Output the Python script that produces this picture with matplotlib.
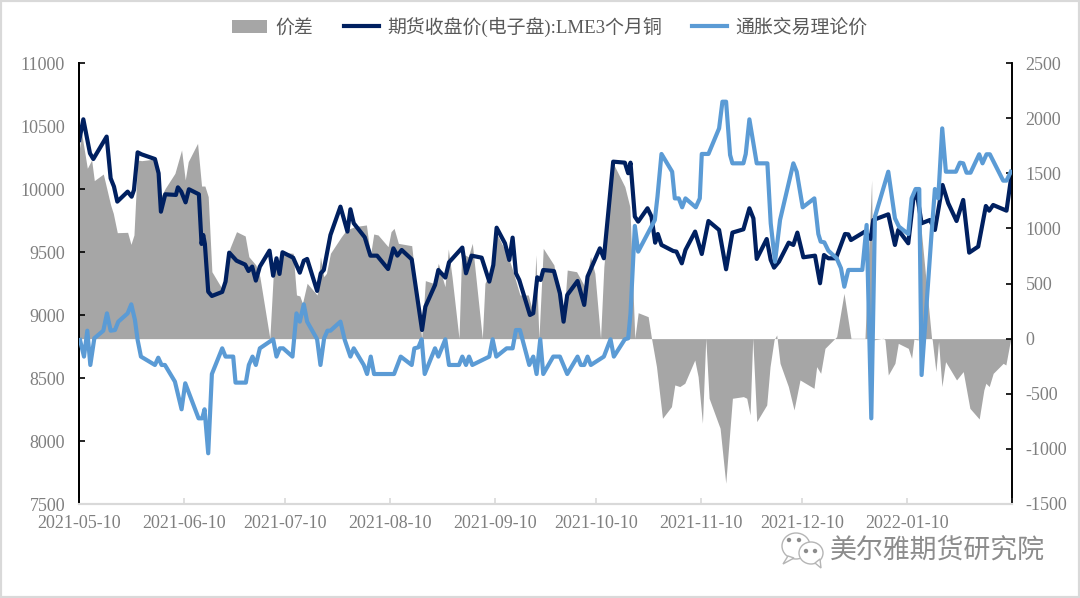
import matplotlib
matplotlib.use('Agg')
import matplotlib.pyplot as plt
from matplotlib.patches import Ellipse, Rectangle, Polygon
import numpy as np

# days since 2021-05-10, the time axis ends at about day 280 in these units
tick_labels = ['2021-05-10', '2021-06-10', '2021-07-10', '2021-08-10', '2021-09-10',
               '2021-10-10', '2021-11-10', '2021-12-10', '2022-01-10', '']
tick_days = [0, 31, 61, 92, 123, 153, 184, 214, 245, 276]

lme_days = [0.1, 1.3, 3.3, 4.3, 8.3, 9.5, 10.5, 11.5, 14.6, 15.8, 16.5, 17.6, 18.8, 22.8, 23.9, 24.6, 25.9,
            29.1, 29.7, 30.7, 32, 33, 36, 36.8, 37.3, 37.8, 38.8, 39.9, 43, 44, 45.1, 47.3, 49.9, 50.9, 52,
            53.1, 54.3, 57.2, 58.3, 59.3, 60.2, 61.1, 64.3, 66.3, 67.5, 68.5, 71.5, 72.6, 73.5, 75.5, 78.5,
            80.6, 81.5, 82.5, 85.8, 87.5, 89.5, 92.8, 94.4, 95.6, 96.9, 99.9, 103, 104, 106.9, 107.9, 110,
            111.1, 115.1, 116.2, 117.9, 120.9, 123.2, 124.4, 125.4, 127.9, 129.2, 130.2, 131.2, 132.2,
            135.4, 136.4, 137.6, 138.6, 139.4, 142.6, 144.4, 145.5, 146.6, 149.7, 151.7, 152.7, 156.4,
            157.6, 160.4, 163.9, 164.9, 165.6, 166.9, 167.9, 170.7, 171.9, 173, 173.8, 174.9, 178.4, 179.4,
            181, 182.1, 185, 187, 189, 192.2, 194.3, 196.2, 199.5, 201.3, 202.5, 203.5, 206.5, 207.7, 208.7,
            210.2, 213.1, 214.5, 215.7, 217.5, 221, 222.5, 223.7, 225, 227.3, 230, 231, 231.8, 236, 237.7,
            238.5, 243, 245, 246, 249, 250.5, 251.5, 253, 255.5, 257, 259.3, 261, 263.5, 265.5, 267.3, 270,
            272.3, 273.3, 274.5, 278.5, 280]
lme_price = [10389, 10553, 10283, 10238, 10416, 10085, 10019, 9900, 9979, 9939, 9992, 10291, 10275, 10238, 10125,
             9820, 9958, 9953, 10013, 9979, 9894, 9998, 9958, 9564, 9635, 9564, 9185, 9151, 9183, 9265, 9495,
             9431, 9400, 9349, 9384, 9273, 9384, 9511, 9312, 9450, 9326, 9498, 9455, 9336, 9431, 9445, 9191,
             9331, 9357, 9635, 9860, 9662, 9839, 9728, 9617, 9471, 9471, 9365, 9529, 9471, 9516, 9442, 8881,
             9066, 9238, 9357, 9297, 9418, 9535, 9331, 9471, 9455, 9265, 9397, 9693, 9569, 9437, 9614, 9331,
             9278, 9000, 9014, 9299, 9278, 9357, 9349, 9172, 8947, 9159, 9270, 9080, 9305, 9529, 9450, 10217,
             10209, 10125, 10209, 9781, 9741, 9847, 9781, 9574, 9643, 9556, 9508, 9503, 9410, 9516, 9662, 9484,
             9746, 9675, 9363, 9654, 9680, 9847, 9767, 9445, 9603, 9437, 9376, 9424, 9574, 9556, 9654, 9458,
             9471, 9252, 9476, 9450, 9450, 9643, 9640, 9595, 9662, 9603, 9754, 9799, 9556, 9675, 9569, 9913,
             9979, 9728, 9754, 9675, 10032, 9887, 9746, 9913, 9495, 9543, 9865, 9828, 9873, 9828, 10111]

theory_days = [0.3, 1.5, 2.5, 3.4, 4.6, 7.3, 8.4, 9.5, 10.8, 11.8, 14.6, 15.7, 16.8, 17.6, 18.6, 22.8, 23.8, 24.8,
               25.8, 28.8, 30.8, 31.9, 35.9, 37, 37.7, 38.8, 39.9, 43, 44, 46.3, 47, 50.1, 51, 52.1, 53.1, 54.3,
               58.3, 59.3, 60.3, 61.3, 64.1, 65.3, 66.3, 67.5, 68.5, 71.5, 72.5, 73.6, 74.6, 75.5, 78.5, 79.8,
               81.5, 82.5, 85.5, 86.5, 87.6, 88.6, 94.6, 96.6, 99.9, 100.7, 101.9, 102.9, 103.8, 106.9, 107.9,
               110, 111.1, 114.1, 115.1, 116.2, 117.1, 118.1, 123.2, 124.2, 125.3, 128.4, 130.2, 131.2, 132.4,
               135.2, 136.4, 137.4, 138.5, 139.4, 142.4, 144.4, 146.6, 149.7, 150.7, 151.7, 152.7, 153.7, 157.6,
               159.6, 160.6, 163.9, 164.9, 165.6, 166.9, 167.9, 172.9, 173.7, 174.9, 178.1, 178.9, 180.1, 181.1,
               182.1, 185.2, 186.4, 187, 189, 192.2, 193.2, 194.3, 195.5, 196.2, 199.5, 200.2, 201.3, 203.5,
               206.7, 207.7, 209, 210.5, 214.5, 215.5, 217.3, 220.8, 222, 222.7, 223.8, 225, 227.5, 228.8, 229.8,
               231, 235.2, 236.5, 237.9, 239, 243, 245, 246.2, 249, 250, 251.2, 252.3, 253, 256, 257, 258, 259.2,
               260.3, 263.3, 264.5, 265.5, 266.5, 267.7, 270.3, 271.3, 272.5, 273.5, 277.5, 278.5, 279.8]
theory_price = [-12, -163, 72, -239, 3, 72, 229, 72, 78, 154, 229, 311, 169, -12, -163, -239, -173, -239, -239, -390,
                -641, -405, -723, -723, -641, -1040, -321, -88, -163, -163, -399, -399, -239, -163, -239, -88, -6,
                -163, -88, -88, -163, 229, 154, 311, 154, -6, -239, 3, 72, 72, 154, -12, -163, -88, -239, -321,
                -163, -321, -321, -163, -239, -88, -79, -6, -321, -88, -163, -6, -239, -239, -163, -239, -163,
                -239, -163, -6, -163, -88, -88, 78, 78, -239, -163, -321, -6, -321, -163, -163, -321, -163, -239,
                -239, -163, -239, -163, -6, -163, -6, 3, 229, 1022, 789, 1076, 1288, 1675, 1514, 1272, 1272, 1191,
                1272, 1191, 1272, 1675, 1675, 1907, 2149, 2149, 1666, 1590, 1590, 1675, 1989, 1590, 1590, 1046, 698,
                1076, 1590, 1514, 1191, 1272, 949, 880, 873, 798, 728, 638, 471, 623, 623, 1031, -723, 1106, 1514,
                1091, 1016, 949, 1272, 1357, 1357, -330, 955, 1357, 1272, 1907, 1514, 1514, 1596, 1590, 1505, 1505,
                1672, 1590, 1672, 1672, 1433, 1433, 1514]

spread_days = [0, 0.8, 2.5, 3.8, 4.6, 7.3, 9.5, 10.3, 11.5, 14.6, 15.6, 16.5, 17.6, 18.8, 22.8, 23.9, 24.6, 25.9, 28.8,
               30.8, 31.9, 32.8, 35.6, 36.8, 37.8, 38.8, 39.9, 43, 45.3, 47.3, 49.9, 51, 53.1, 54.3, 57.3, 58.3,
               59.3, 60.3, 61.1, 64.3, 65.3, 66.3, 67.1, 68.5, 71.5, 72.5, 73.5, 74.3, 75.5, 78.8, 80.3, 82.8, 86.3,
               87.5, 88.5, 89.8, 92.8, 93.7, 94.6, 95.9, 99.9, 102.9, 104, 106.4, 107.9, 109.9, 110.9, 112, 114.1,
               114.9, 116.9, 118.1, 121.1, 121.9, 124.4, 125.4, 128.9, 130.2, 132.4, 134.9, 136.4, 137.2, 138.1,
               139.4, 142.6, 145.5, 146.6, 149.4, 151.9, 153.6, 154.9, 156.6, 157.6, 160.4, 163.9, 165.4, 166.9,
               167.9, 170.9, 171.9, 173.4, 175.2, 177.9, 178.9, 180.4, 181.9, 184.9, 185.9, 187.2, 188.2, 189.2,
               192.5, 194.2, 196.2, 199.5, 200.5, 201.5, 202.3, 203.5, 206.5, 207.5, 208.7, 209.5, 210.5, 213,
               214.7, 216.5, 220.7, 221.5, 222.7, 224, 227.5, 229.7, 231.8, 236, 238, 238.5, 241.5, 242, 243, 245,
               246, 249, 250, 250.7, 252, 252.7, 256, 256.2, 257.3, 258.1, 259.1, 260.2, 263.5, 265.5, 267.5, 270.3,
               271.7, 272.3, 273.3, 274.5, 277.5, 278.3, 279.7]
spread = [1700, 1862, 1545, 1620, 1433, 1493, 1212, 1136, 961, 964, 855, 940, 1620, 1614, 1629, 1499, 1288, 1363, 1499,
          1711, 1439, 1605, 1771, 1384, 1384, 1288, 607, 450, 819, 970, 931, 743, 668, 562, 3, 562, 728, 592, 783, 774,
          396, 387, 320, 502, 396, 743, 562, 592, 774, 925, 985, 1016, 1031, 753, 949, 940, 834, 970, 1000, 864, 843,
          3, 526, 502, 683, 471, 813, 562, 3, 774, 743, 864, 3, 502, 668, 955, 743, 622, 396, 396, 229, 759, 3, 819,
          668, 154, 622, 607, 471, 743, 592, 3, 653, 1590, 1378, 1197, 3, 235, 199, 3, -254, -723, -617, -420, -435,
          -405, -194, -345, -768, 3, -541, -813, -1312, -541, -526, -541, -692, 3, -753, -602, -254, -12, 33, -224,
          -435, -647, -375, -451, -254, -315, -88, 18, 411, 3, 3, 1439, -12, 3, -12, -330, -224, -43, -88, -179, -6,
          -12, 1046, 3, -12, -299, -27, -435, -209, -375, -299, -632, -729, -466, -405, -435, -315, -224, -239, -12]

navy = '#002060'
light = '#5B9BD5'
gray = '#A6A6A6'
label_gray = '#7F7F7F'
line_gray = '#D9D9D9'
W, H = 1080, 598

plt.rcParams['font.family'] = ['Liberation Serif', 'Noto Sans CJK SC', 'DejaVu Sans']
plt.rcParams['axes.unicode_minus'] = False

fig = plt.figure(figsize=(W / 100, H / 100), dpi=100)
# left axes holds the copper price, the other two share the right scale
ax = fig.add_axes([79 / W, 1 - 504 / H, (1011.5 - 79) / W, (504 - 63) / H])
ax_r = ax.twinx()
ax_t = ax.twinx()
ax_r.set_zorder(1)
ax.set_zorder(2)
ax_t.set_zorder(3)
ax.patch.set_visible(False)
ax_t.patch.set_visible(False)

area = ax_r.fill_between(spread_days, spread, 0, color=gray, linewidth=0, label='价差')
line1, = ax.plot(lme_days, lme_price, color=navy, lw=3, solid_joinstyle='round', label='期货收盘价(电子盘):LME3个月铜')
line2, = ax_t.plot(theory_days, theory_price, color=light, lw=3, solid_joinstyle='round', label='通胀交易理论价')

ax.set_xlim(0, 280)
ax.set_ylim(7500, 11000)
ax.set_yticks(range(7500, 11001, 500))
ax_r.set_ylim(-1500, 2500)
ax_r.set_yticks(range(-1500, 2501, 500))
ax_t.set_ylim(-1500, 2500)
ax_t.axis('off')

# tick positions are in the picture's own day units, 3.33 px each against 3.375 px for a real day
ax.set_xticks(np.array(tick_days) * 280 / 276)
ax.set_xticklabels(tick_labels)

ax.tick_params(axis='y', direction='in', length=4, width=1.2, color='black', labelcolor=label_gray, labelsize=13, pad=10)
ax_r.tick_params(axis='y', direction='in', length=4, width=1.2, color='black', labelcolor=label_gray, labelsize=13, pad=10)
ax.tick_params(axis='x', direction='in', length=4, width=1.2, color=line_gray, labelcolor=label_gray, labelsize=13, pad=8)

for a in (ax, ax_r):
    a.spines['top'].set_visible(False)
    a.spines['bottom'].set_color(line_gray)
    a.spines['bottom'].set_linewidth(1.5)
    a.spines['left'].set_linewidth(1.4)
    a.spines['right'].set_linewidth(1.2)

fig.legend(handles=[area, line1, line2], loc='center', bbox_to_anchor=(550 / W, 1 - 27 / H), ncol=3, frameon=False,
           fontsize=13.6, labelcolor='#595959', handlelength=1.85, handletextpad=0.45, columnspacing=1.6)

# picture frame
fig.add_artist(Rectangle((0, 0), 1, 1, transform=fig.transFigure, fill=False, edgecolor=line_gray, linewidth=3))

# watermark with the chat icon
wm = '#8C8C8C'
fig.text(830 / W, 1 - 550 / H, '美尔雅期货研究院', color=wm, fontsize=19.4, va='center', ha='left',
         family=['Noto Sans CJK SC', 'DejaVu Sans'])
for cx, cy, w, h in [(796, 546, 28, 26), (811, 553, 24, 22)]:
    fig.add_artist(Ellipse((cx / W, 1 - cy / H), w / W, h / H, transform=fig.transFigure,
                           facecolor='white', edgecolor='#B5B5B5', linewidth=1))
fig.add_artist(Polygon([(788 / W, 1 - 556 / H), (783 / W, 1 - 564 / H), (794 / W, 1 - 558 / H)],
                       transform=fig.transFigure, facecolor='white', edgecolor='#B5B5B5', linewidth=1))
fig.add_artist(Polygon([(815 / W, 1 - 563 / H), (821 / W, 1 - 568 / H), (820 / W, 1 - 559 / H)],
                       transform=fig.transFigure, facecolor='white', edgecolor='#B5B5B5', linewidth=1))
for cx, cy in [(789, 540), (799, 540), (806, 551), (815, 551)]:
    fig.add_artist(Ellipse((cx / W, 1 - cy / H), 3 / W, 3 / H, transform=fig.transFigure, color='#8C8C8C'))

fig.savefig('out.png', dpi=100)
